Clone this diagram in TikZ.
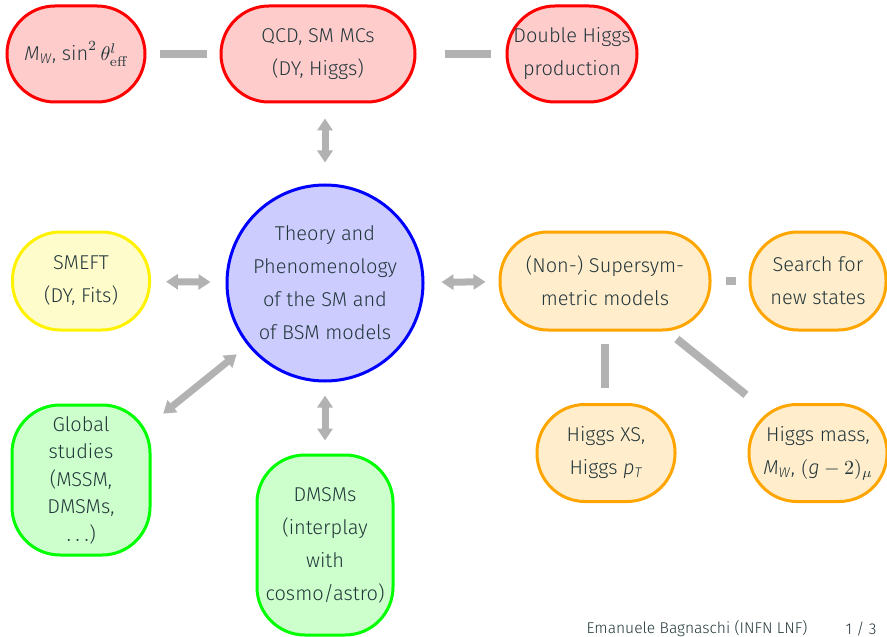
\documentclass[tikz,border=0pt]{standalone}
\usepackage{fontspec}
\setmainfont{Fira Sans}[UprightFont={* Light},ItalicFont={* Light Italic}]
\usepackage{amsmath}
\usetikzlibrary{arrows.meta}
\definecolor{txtgray}{RGB}{35,55,59}
\definecolor{myorange}{RGB}{255,165,0}
\tikzset{
  bubble/.style={draw,line width=1.5pt,rounded corners=24pt,align=center,inner sep=0pt,
    text=txtgray,font=\fontsize{10}{16.5}\selectfont},
  redbox/.style={bubble,draw=red,fill=red!20},
  yellowbox/.style={bubble,draw=yellow,fill=yellow!20},
  orangebox/.style={bubble,draw=myorange,fill=myorange!20},
  greenbox/.style={bubble,draw=green,fill=green!20},
  link/.style={draw=gray!60,line width=4pt,shorten <=6.5pt,shorten >=6.5pt},
  dbl/.style={draw=gray!60,line width=3.5pt,
    {Triangle[width=7.5pt,length=6pt]}-{Triangle[width=7.5pt,length=6pt]},
    shorten <=7pt,shorten >=7pt}
}
\newcommand{\lmrm}[1]{\text{\fontfamily{lmr}\selectfont #1}}
\begin{document}
\begin{tikzpicture}[x=0.5pt,y=-0.5pt]
  \useasboundingbox (0,0) rectangle (887,636);
  \node[redbox,minimum width=69pt,minimum height=48pt] (mw) at (76,54)
    {$\mathit{M}_{\mathit{W}}$, $\mathrm{sin}^2\,\theta^{l}_{\lmrm{eff}}$};
  \node[redbox,minimum width=97pt,minimum height=48pt] (qcd) at (318,54) {QCD, SM MCs\\(DY, Higgs)};
  \node[redbox,minimum width=65pt,minimum height=48pt] (dh) at (572,54) {Double Higgs\\production};
  \node[bubble,circle,draw=blue,fill=blue!20,minimum size=98pt] (th) at (325,283)
    {Theory and\\Phenomenology\\of the SM and\\of BSM models};
  \node[yellowbox,minimum width=68.5pt,minimum height=49pt] (smeft) at (81,281) {SMEFT\\(DY, Fits)};
  \node[orangebox,minimum width=105pt,minimum height=49pt] (susy) at (605,281) {(Non-) Supersym-\\metric models};
  \node[orangebox,minimum width=68pt,minimum height=49pt] (search) at (818,281) {Search for\\new states};
  \node[orangebox,minimum width=69pt,minimum height=48.5pt] (hxs) at (606,453) {Higgs XS,\\Higgs $\mathit{p}_{\mathit{T}}$};
  \node[orangebox,minimum width=69pt,minimum height=48.5pt] (hmass) at (818,453)
    {Higgs mass,\\$\mathit{M}_{\mathit{W}}$, $(\mathit{g}-2)_\mu$};
  \node[greenbox,minimum width=69pt,minimum height=75pt,font=\fontsize{10}{13.75}\selectfont] (glob) at (81,480)
    {Global\\studies\\(MSSM,\\DMSMs,\\$\ldots$)};
  \node[greenbox,minimum width=68pt,minimum height=90pt] (dm) at (325,545) {DMSMs\\(interplay\\with\\cosmo/astro)};
  \node[text=txtgray,font=\fontsize{7.8}{9}\selectfont] (author) at (697,629) {Emanuele Bagnaschi (INFN LNF)};
  \node[text=txtgray,font=\fontsize{7.8}{9}\selectfont] (page) at (861,629) {1 / 3};
  \draw[link] (mw) -- (qcd);
  \draw[link,shorten <=14pt,shorten >=7.5pt] (qcd) -- (dh);
  \draw[dbl,shorten <=7.5pt,shorten >=10.5pt] (qcd.south -| th.north) -- (th.north);
  \draw[dbl,shorten <=7.5pt,shorten >=7.5pt] (smeft) -- (th);
  \draw[dbl,shorten <=8.5pt,shorten >=6.5pt] (th) -- (susy);
  \draw[link,shorten <=7pt] (susy) -- (search);
  \draw[link,shorten <=6pt,shorten >=7.5pt] (susy.south) -- (susy.south |- hxs.north);
  \draw[link,shorten <=6pt] (susy) -- (hmass);
  \draw[dbl,shorten >=7.5pt] (th) -- (glob);
  \draw[dbl,shorten <=6.5pt,shorten >=6.5pt] (th) -- (dm);
\end{tikzpicture}
\end{document}
